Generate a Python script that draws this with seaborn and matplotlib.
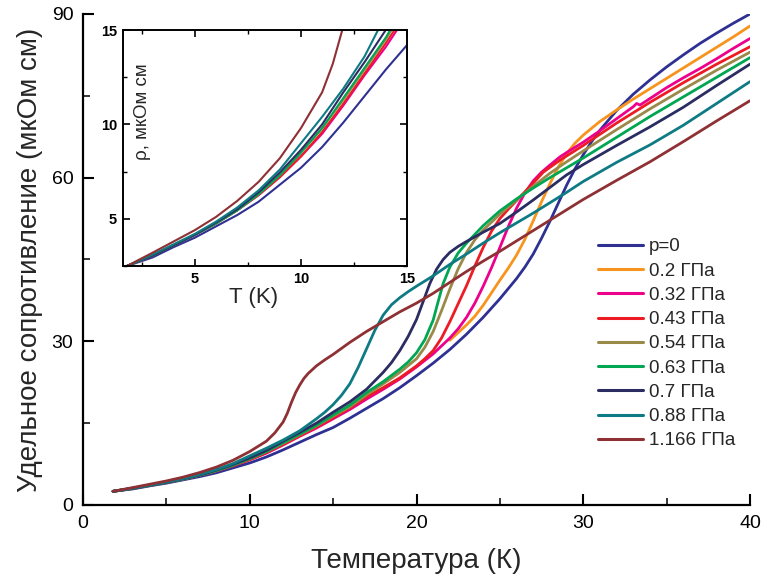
import numpy as np
import pandas as pd
import matplotlib
matplotlib.use("Agg")
import matplotlib.pyplot as plt
import seaborn as sns
from matplotlib.ticker import MultipleLocator

sns.set_style("ticks")
plt.rcParams['font.family'] = ['Liberation Sans Narrow', 'Liberation Sans', 'DejaVu Sans']

labels = ["p=0", "0.2 ГПа", "0.32 ГПа", "0.43 ГПа", "0.54 ГПа",
          "0.63 ГПа", "0.7 ГПа", "0.88 ГПа", "1.166 ГПа"]
colors = ["#2E3192", "#F7941D", "#EC008C", "#ED1C24", "#998A48",
          "#00A651", "#2B2D62", "#0E7B84", "#8E3034"]

# ---- data ----
T_p0 = [1.8, 3, 4, 5, 6, 7, 8, 9, 10, 11, 12, 13, 14, 15, 16, 17, 18, 19, 20, 21, 22, 23, 24, 25,
        26, 26.5, 27, 27.5, 28, 28.5, 29, 29.5, 30, 30.5, 31, 32, 33, 34, 35, 36, 37, 38, 39, 40]
R_p0 = [2.5, 2.95, 3.5, 4.0, 4.6, 5.2, 5.9, 6.8, 7.7, 8.8, 10.1, 11.5, 12.9, 14.2, 15.9, 17.7, 19.5,
        21.5, 23.7, 26.0, 28.5, 31.3, 34.4, 37.8, 41.5, 43.6, 46.0, 48.9, 52.0, 55.3, 58.6, 61.6,
        64.2, 66.6, 68.7, 72.3, 75.3, 77.9, 80.3, 82.5, 84.6, 86.5, 88.3, 90.0]

T_p020 = [22.0, 22.5, 23, 23.5, 24, 24.5, 25, 25.5, 26, 26.5, 27, 27.5, 28, 28.5, 29, 29.5, 30, 31,
          32, 33, 34, 35, 36, 37, 38, 39, 40]
R_p020 = [30.2, 31.6, 33.0, 34.6, 36.6, 38.9, 41.2, 43.4, 45.8, 48.7, 52.1, 55.6, 58.9, 61.9, 64.4,
          66.3, 67.8, 70.3, 72.4, 74.4, 76.3, 78.2, 80.1, 82.0, 83.9, 85.8, 87.8]

T_p032 = [1.8, 3, 4, 5, 6, 7, 8, 9, 10, 11, 12, 13, 14, 15, 16, 17, 18, 19, 20, 21, 22, 22.5, 23,
          23.5, 24, 24.5, 25, 25.5, 26, 26.5, 27, 27.5, 28, 28.6, 29, 30, 31, 32, 33, 33.2, 33.4,
          34, 35, 36, 37, 38, 39, 40]
R_p032 = [2.5, 3.05, 3.6, 4.15, 4.75, 5.45, 6.25, 7.2, 8.3, 9.5, 11.0, 12.6, 14.1, 15.8, 17.5,
          19.4, 21.2, 23.1, 25.3, 27.7, 30.6, 32.3, 34.4, 37.0, 40.1, 43.5, 47.2, 51.0, 54.4, 57.2,
          59.4, 61.0, 62.3, 63.8, 64.6, 66.5, 68.6, 70.8, 73.0, 73.6, 73.3, 74.5, 76.5, 78.3, 80.0,
          81.8, 83.7, 85.5]

T_p043 = [1.8, 3, 4, 5, 6, 7, 8, 9, 10, 11, 12, 13, 14, 15, 16, 17, 18, 19, 20, 20.5, 21, 21.5,
          22, 22.5, 23, 23.5, 24, 24.5, 25, 25.5, 26, 27, 27.6, 28.6, 30, 32, 34, 36, 38, 39, 40]
R_p043 = [2.5, 3.05, 3.6, 4.15, 4.75, 5.45, 6.25, 7.2, 8.3, 9.6, 11.1, 12.7, 14.3, 16.0, 17.8,
          19.8, 21.5, 23.3, 25.5, 26.8, 28.3, 30.6, 33.6, 36.9, 40.2, 43.8, 47.2, 50.2, 52.5, 54.2,
          55.8, 59.0, 61.0, 63.2, 65.9, 70.0, 73.8, 77.4, 80.8, 82.4, 84.0]

T_p054 = [1.8, 3, 4, 5, 6, 7, 8, 9, 10, 11, 12, 13, 14, 15, 16, 17, 18, 19, 20, 20.5, 21, 21.5,
          22, 22.5, 23, 23.5, 24, 25, 26, 27, 28, 29, 30, 32, 34, 36, 38, 40]
R_p054 = [2.5, 3.05, 3.6, 4.15, 4.75, 5.45, 6.3, 7.3, 8.5, 9.8, 11.3, 12.9, 14.5, 16.3, 18.0, 20.2,
          22.2, 24.3, 26.8, 28.9, 31.8, 35.6, 39.6, 43.3, 46.3, 48.6, 50.4, 53.3, 55.9, 58.4, 60.8,
          62.9, 64.9, 68.8, 72.6, 76.2, 79.7, 83.0]

T_p063 = [1.8, 3, 4, 5, 6, 7, 8, 9, 10, 11, 12, 13, 14, 15, 16, 17, 18, 19, 19.5, 20, 20.5, 21,
          21.3, 21.6, 22, 22.5, 23, 24, 25, 26, 27, 28, 29, 30, 32, 34, 36, 38, 40]
R_p063 = [2.5, 3.05, 3.6, 4.15, 4.75, 5.45, 6.3, 7.3, 8.5, 9.8, 11.4, 13.0, 14.6, 16.5, 18.3, 20.6,
          22.6, 24.9, 26.2, 27.9, 30.3, 33.9, 37.3, 40.6, 43.6, 46.2, 48.0, 51.2, 53.9, 56.1, 58.1,
          60.0, 61.8, 63.6, 67.4, 71.2, 74.8, 78.4, 82.0]

T_p070 = [1.8, 3, 4, 5, 6, 7, 8, 9, 10, 11, 12, 13, 14, 15, 16, 17, 18, 18.5, 19, 19.5, 20, 20.4,
          20.8, 21.2, 21.6, 22, 22.5, 23, 24, 25, 26, 27, 28, 29, 30, 32, 34, 36, 38, 40]
R_p070 = [2.5, 3.05, 3.6, 4.15, 4.8, 5.5, 6.4, 7.45, 8.65, 10.0, 11.7, 13.3, 15.0, 17.0, 18.9,
          21.2, 24.3, 26.1, 28.3, 30.9, 34.0, 37.3, 40.6, 43.2, 45.0, 46.3, 47.4, 48.3, 50.0, 51.6,
          53.7, 55.9, 58.2, 60.5, 62.4, 65.9, 69.3, 72.9, 76.9, 80.8]

T_p088 = [1.8, 3, 4, 5, 6, 7, 8, 9, 10, 11, 12, 13, 14, 14.5, 15, 15.5, 16, 16.5, 17, 17.5, 18,
          18.5, 19, 19.5, 20, 21, 22, 23, 24, 25, 26, 27, 28, 29, 30, 32, 34, 36, 38, 40]
R_p088 = [2.5, 3.1, 3.65, 4.2, 4.85, 5.6, 6.5, 7.6, 9.0, 10.4, 11.9, 13.6, 15.8, 17.0, 18.4, 20.1,
          22.2, 25.2, 28.6, 32.0, 34.8, 36.7, 38.0, 39.1, 40.1, 42.0, 44.1, 46.0, 48.0, 49.9, 51.7,
          53.5, 55.4, 57.3, 59.3, 62.8, 66.0, 69.6, 73.6, 77.6]

T_p117 = [1.8, 3, 4, 5, 6, 7, 8, 9, 10, 11, 11.5, 12, 12.25, 12.5, 12.75, 13, 13.25, 13.5, 14,
          14.5, 15, 16, 17, 18, 19, 20, 21, 22, 23, 24, 25, 26, 27, 28, 29, 30, 32, 34, 36, 38, 40]
R_p117 = [2.5, 3.2, 3.8, 4.4, 5.1, 5.95, 6.95, 8.2, 9.8, 11.7, 13.2, 15.2, 16.8, 18.8, 20.6, 22.0,
          23.2, 24.1, 25.5, 26.6, 27.6, 29.8, 31.8, 33.6, 35.4, 37.0, 38.8, 40.8, 42.8, 44.7, 46.5,
          48.4, 50.3, 52.2, 54.1, 56.0, 59.5, 62.9, 66.6, 70.4, 74.1]

series_T = [T_p0, T_p020, T_p032, T_p043, T_p054, T_p063, T_p070, T_p088, T_p117]
series_R = [R_p0, R_p020, R_p032, R_p043, R_p054, R_p063, R_p070, R_p088, R_p117]

frames = []
for lab, t, r in zip(labels, series_T, series_R):
    frames.append(pd.DataFrame({"T": t, "rho": r, "p": lab}))
df = pd.concat(frames, ignore_index=True)
palette = dict(zip(labels, colors))

fig = plt.figure(figsize=(7.65, 5.85), dpi=100)
ax = fig.add_axes([0.1085, 0.1368, 0.8719, 0.8393])

sns.lineplot(data=df, x="T", y="rho", hue="p", hue_order=labels, palette=palette,
             estimator=None, sort=False, lw=2.0, ax=ax)
for ln in ax.get_lines():
    ln.set_solid_joinstyle("round")

ax.set_xlim(0, 40)
ax.set_ylim(0, 90)
ax.xaxis.set_major_locator(MultipleLocator(10))
ax.xaxis.set_minor_locator(MultipleLocator(5))
ax.yaxis.set_major_locator(MultipleLocator(30))
ax.yaxis.set_minor_locator(MultipleLocator(15))
for s in ["top", "right"]:
    ax.spines[s].set_visible(False)
for s in ["left", "bottom"]:
    ax.spines[s].set_linewidth(1.6)
    ax.spines[s].set_color("black")
ax.tick_params(which="major", direction="in", length=8, width=1.5, labelsize=14, pad=7, colors="black")
ax.tick_params(which="minor", direction="in", length=5, width=1.3)
ax.set_xlabel("Температура (К)", fontsize=20, labelpad=12)
ax.set_ylabel("Удельное сопротивление (мкОм см)", fontsize=20, labelpad=6)

leg = ax.legend(loc="upper left", bbox_to_anchor=(0.772, 0.543), frameon=False,
                prop={"family": ["Liberation Sans", "DejaVu Sans"], "size": 13.5},
                handlelength=2.4, handletextpad=0.32, labelspacing=0.38,
                borderpad=0, borderaxespad=0)
for h in leg.get_lines():
    h.set_linewidth(2.2)

# ---- inset ----
ins = fig.add_axes([0.1604, 0.5453, 0.3716, 0.4034])
sns.lineplot(data=df, x="T", y="rho", hue="p", hue_order=labels, palette=palette,
             estimator=None, sort=False, lw=1.5, ax=ins, legend=False)
for ln in ins.get_lines():
    ln.set_solid_joinstyle("round")
ins.set_xlim(1.6, 15)
ins.set_ylim(2.5, 15)
ins.xaxis.set_major_locator(MultipleLocator(5))
ins.xaxis.set_minor_locator(MultipleLocator(2.5))
ins.yaxis.set_major_locator(MultipleLocator(5))
ins.yaxis.set_minor_locator(MultipleLocator(2.5))
for s in ins.spines.values():
    s.set_linewidth(1.4)
    s.set_color("black")
ins.tick_params(which="both", direction="in", top=True, right=True, colors="black")
ins.tick_params(which="major", length=5, width=1.2, labelsize=10.5, pad=4)
ins.tick_params(which="minor", length=3, width=1.0)
for lbl in ins.get_xticklabels() + ins.get_yticklabels():
    lbl.set_fontweight("bold")
    lbl.set_fontfamily(["Liberation Sans", "DejaVu Sans"])
ins.set_xlabel("T (K)", fontsize=16, family=["Liberation Sans", "DejaVu Sans"])
ins.xaxis.set_label_coords(0.46, -0.09)
ins.set_ylabel("")
ins.text(0.07, 0.655, "ρ, мкОм см", rotation=90, transform=ins.transAxes,
         ha="center", va="center", fontsize=13.5, family=["Liberation Sans", "DejaVu Sans"])

fig.savefig("out.png", dpi=100)
